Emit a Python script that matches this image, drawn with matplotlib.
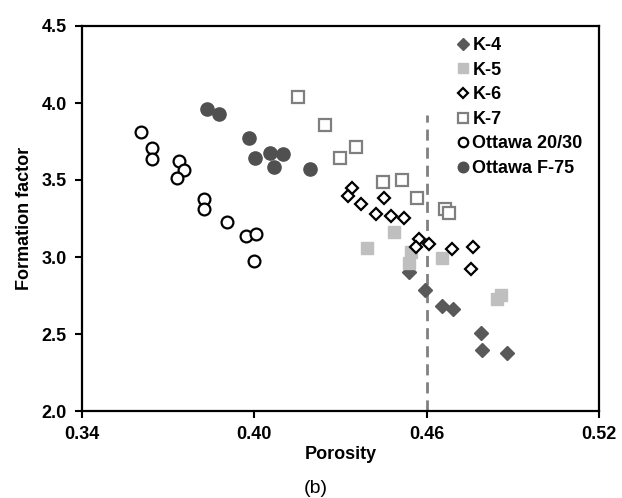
import matplotlib
matplotlib.use("Agg")
import matplotlib.pyplot as plt

plt.rcParams['font.family'] = ['Liberation Sans', 'DejaVu Sans']

# datos (porosidad, factor de formacion)
k4_x = [0.4539, 0.4594, 0.4655, 0.4693, 0.4788, 0.4794, 0.4881]
k4_y = [2.905, 2.786, 2.682, 2.660, 2.508, 2.396, 2.375]

k5_x = [0.4391, 0.4487, 0.4546, 0.4539, 0.4652, 0.4844, 0.4859]
k5_y = [3.060, 3.160, 3.030, 2.959, 2.992, 2.727, 2.753]

k6_x = [0.4341, 0.4327, 0.4371, 0.4452, 0.4425, 0.4476, 0.4522,
        0.4573, 0.4563, 0.4609, 0.4687, 0.4760, 0.4753]
k6_y = [3.446, 3.398, 3.342, 3.381, 3.277, 3.268, 3.253,
        3.115, 3.063, 3.084, 3.050, 3.063, 2.924]

k7_x = [0.4153, 0.4246, 0.4355, 0.4299, 0.4449, 0.4514, 0.4567, 0.4663, 0.4678]
k7_y = [4.041, 3.860, 3.714, 3.645, 3.487, 3.498, 3.381, 3.312, 3.284]

ott2030_x = [0.3604, 0.3643, 0.3643, 0.3738, 0.3756, 0.3731,
             0.3825, 0.3825, 0.3906, 0.3971, 0.4006, 0.3998]
ott2030_y = [3.812, 3.708, 3.634, 3.621, 3.563, 3.515,
             3.375, 3.310, 3.229, 3.138, 3.149, 2.974]

ottf75_x = [0.3835, 0.3877, 0.3983, 0.4003, 0.4056, 0.4101, 0.4069, 0.4193]
ottf75_y = [3.959, 3.927, 3.775, 3.641, 3.675, 3.669, 3.582, 3.569]

# linea de referencia vertical
ref_x = 0.46
ref_y = [2.0, 3.92]

x_ticks = [0.34, 0.40, 0.46, 0.52]
y_ticks = [2.0, 2.5, 3.0, 3.5, 4.0, 4.5]

fig = plt.figure(figsize=(6.22, 4.98), dpi=100)
ax = fig.add_axes([82/622, 87/498, 517/622, 385/498])

ax.plot(k4_x, k4_y, 'D', color='#595959', ms=7.5, mec='#595959', label='K-4')
ax.plot(k5_x, k5_y, 's', color='#bfbfbf', ms=9, mec='#bfbfbf', label='K-5')
ax.plot(k6_x, k6_y, 'D', mfc='white', mec='black', mew=1.6, ms=6.5, label='K-6')
ax.plot(k7_x, k7_y, 's', mfc='white', mec='#7f7f7f', mew=1.6, ms=8.5, label='K-7')
ax.plot(ott2030_x, ott2030_y, 'o', mfc='white', mec='black', mew=1.6, ms=8.5, label='Ottawa 20/30')
ax.plot(ottf75_x, ottf75_y, 'o', color='#505050', ms=9.5, label='Ottawa F-75')

ax.plot([ref_x, ref_x], ref_y, color='#808080', lw=2, dashes=(4, 2.5), zorder=0.5)

ax.set_xlim(0.34, 0.52)
ax.set_ylim(2.0, 4.5)
ax.set_xticks(x_ticks)
ax.set_yticks(y_ticks)
ax.set_xticklabels(['%.2f' % v for v in x_ticks], fontsize=13, fontweight='bold')
ax.set_yticklabels(['%.1f' % v for v in y_ticks], fontsize=13, fontweight='bold')
ax.tick_params(direction='out', length=5, width=1.5, pad=6)

for s in ax.spines.values():
    s.set_linewidth(1.6)

ax.set_xlabel('Porosity', fontsize=13, fontweight='bold', labelpad=2)
ax.set_ylabel('Formation factor', fontsize=13, fontweight='bold', labelpad=6)

ax.legend(loc='upper left', bbox_to_anchor=(0.713, 0.99), frameon=False,
          prop={'size': 13, 'weight': 'bold'}, handlelength=0.6,
          handletextpad=0.2, labelspacing=0.42, markerscale=0.8,
          borderaxespad=0)

fig.text(316/622, 1 - 488/498, '(b)', fontsize=14, ha='center', va='center')

plt.savefig('out.png', dpi=100)
